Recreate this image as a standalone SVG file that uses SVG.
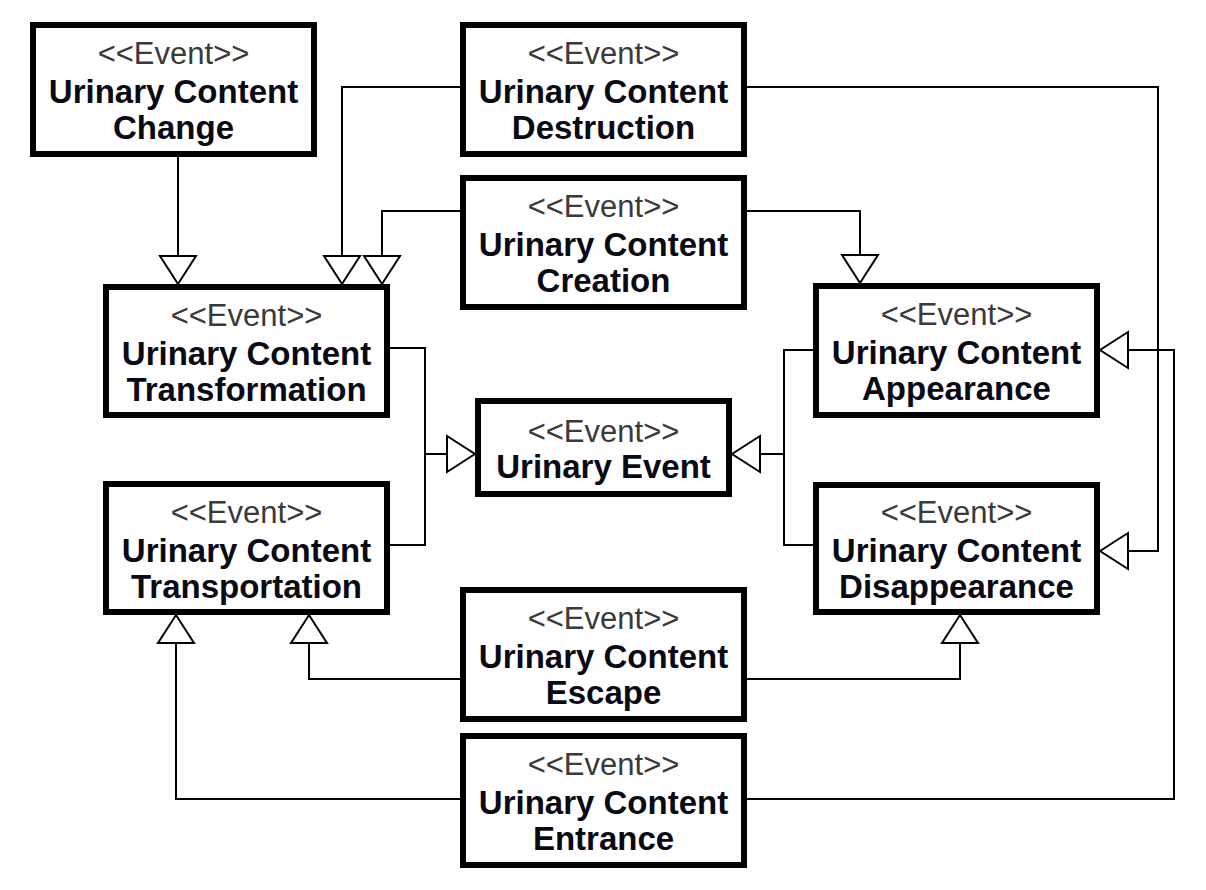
<svg xmlns="http://www.w3.org/2000/svg" xmlns:xlink="http://www.w3.org/1999/xlink" width="1206" height="890" viewBox="0 0 1206 890">
<style>
.box{fill:#fff;stroke:#000;stroke-width:6}
.st{font-family:"Liberation Sans",Arial,sans-serif;font-size:31px;fill:#3a3a3a;text-anchor:middle}
.nm{font-family:"Liberation Sans",Arial,sans-serif;font-size:33px;font-weight:bold;fill:#0a0a14;text-anchor:middle}
.ln{fill:none;stroke:#000;stroke-width:2}
.ah{fill:#fff;stroke:#000;stroke-width:2}
</style>
<defs>
<path id="tri" d="M0,0 L-18,-28 L18,-28 Z"/>
</defs>
<rect width="1206" height="890" fill="#fff"/>
<g id="connectors">
<path class="ln" d="M178,157 V256"/>
<path class="ln" d="M460,87 H342 V256"/>
<path class="ln" d="M460,211 H382 V256"/>
<path class="ln" d="M747,211 H860 V255"/>
<path class="ln" d="M747,87 H1158 V551 H1127"/>
<path class="ln" d="M747,799 H1174 V350 H1127"/>
<path class="ln" d="M460,799 H176 V643"/>
<path class="ln" d="M460,679 H309 V643"/>
<path class="ln" d="M747,679 H960 V643"/>
<path class="ln" d="M390,348 H425 V545 H390 M425,454 H447"/>
<path class="ln" d="M813,350 H784 V545 H813 M784,454 H759"/>
<use xlink:href="#tri" class="ah" transform="translate(178,284)"/>
<use xlink:href="#tri" class="ah" transform="translate(342,284)"/>
<use xlink:href="#tri" class="ah" transform="translate(382,284)"/>
<use xlink:href="#tri" class="ah" transform="translate(860,283)"/>
<use xlink:href="#tri" class="ah" transform="translate(1100,551) rotate(90)"/>
<use xlink:href="#tri" class="ah" transform="translate(1100,350) rotate(90)"/>
<use xlink:href="#tri" class="ah" transform="translate(176,615) rotate(180)"/>
<use xlink:href="#tri" class="ah" transform="translate(309,615) rotate(180)"/>
<use xlink:href="#tri" class="ah" transform="translate(960,615) rotate(180)"/>
<use xlink:href="#tri" class="ah" transform="translate(475,454) rotate(-90)"/>
<use xlink:href="#tri" class="ah" transform="translate(732,454) rotate(90)"/>
</g>
<g id="change">
<rect class="box" x="33" y="25" width="281" height="129"/>
<text class="st" x="173.5" y="64">&lt;&lt;Event&gt;&gt;</text>
<text class="nm" x="173.5" y="103">Urinary Content</text>
<text class="nm" x="173.5" y="139">Change</text>
</g>
<g id="destruction">
<rect class="box" x="463" y="25" width="281" height="129"/>
<text class="st" x="603.5" y="64">&lt;&lt;Event&gt;&gt;</text>
<text class="nm" x="603.5" y="103">Urinary Content</text>
<text class="nm" x="603.5" y="139">Destruction</text>
</g>
<g id="creation">
<rect class="box" x="463" y="178" width="281" height="129"/>
<text class="st" x="603.5" y="217">&lt;&lt;Event&gt;&gt;</text>
<text class="nm" x="603.5" y="256">Urinary Content</text>
<text class="nm" x="603.5" y="292">Creation</text>
</g>
<g id="transformation">
<rect class="box" x="106" y="287" width="281" height="128"/>
<text class="st" x="246.5" y="326">&lt;&lt;Event&gt;&gt;</text>
<text class="nm" x="246.5" y="365">Urinary Content</text>
<text class="nm" x="246.5" y="401">Transformation</text>
</g>
<g id="appearance">
<rect class="box" x="816" y="286" width="281" height="129"/>
<text class="st" x="956.5" y="325">&lt;&lt;Event&gt;&gt;</text>
<text class="nm" x="956.5" y="364">Urinary Content</text>
<text class="nm" x="956.5" y="400">Appearance</text>
</g>
<g id="urinary-event">
<rect class="box" x="478" y="401" width="251" height="93"/>
<text class="st" x="603.5" y="442">&lt;&lt;Event&gt;&gt;</text>
<text class="nm" x="603.5" y="478">Urinary Event</text>
</g>
<g id="transportation">
<rect class="box" x="106" y="484" width="281" height="128"/>
<text class="st" x="246.5" y="523">&lt;&lt;Event&gt;&gt;</text>
<text class="nm" x="246.5" y="562">Urinary Content</text>
<text class="nm" x="246.5" y="598">Transportation</text>
</g>
<g id="disappearance">
<rect class="box" x="816" y="485" width="281" height="127"/>
<text class="st" x="956.5" y="523">&lt;&lt;Event&gt;&gt;</text>
<text class="nm" x="956.5" y="562">Urinary Content</text>
<text class="nm" x="956.5" y="598">Disappearance</text>
</g>
<g id="escape">
<rect class="box" x="463" y="590" width="281" height="129"/>
<text class="st" x="603.5" y="629">&lt;&lt;Event&gt;&gt;</text>
<text class="nm" x="603.5" y="668">Urinary Content</text>
<text class="nm" x="603.5" y="704">Escape</text>
</g>
<g id="entrance">
<rect class="box" x="463" y="736" width="281" height="129"/>
<text class="st" x="603.5" y="775">&lt;&lt;Event&gt;&gt;</text>
<text class="nm" x="603.5" y="814">Urinary Content</text>
<text class="nm" x="603.5" y="850">Entrance</text>
</g>
</svg>
